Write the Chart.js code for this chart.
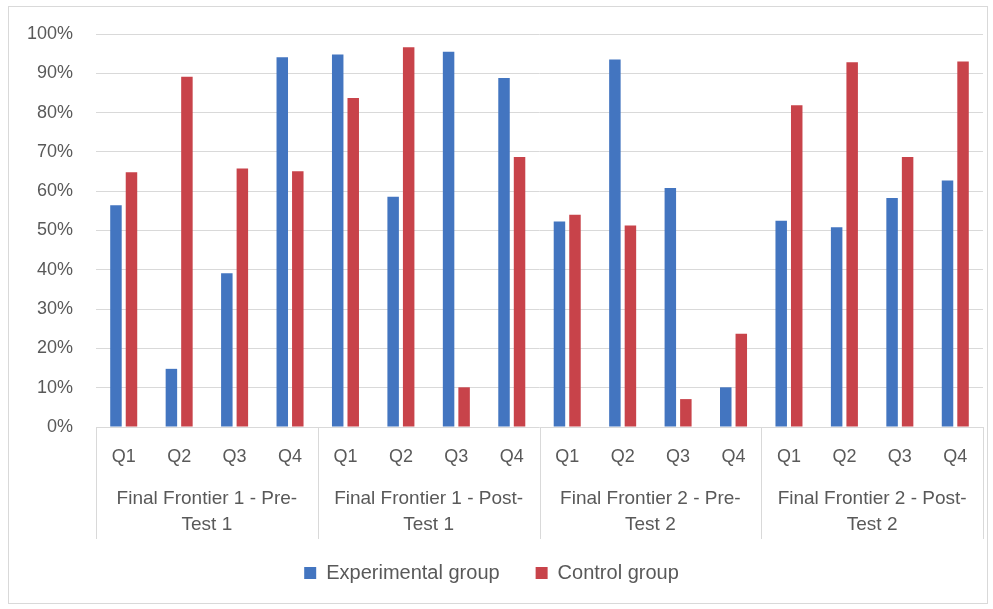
<!DOCTYPE html>
<html>
<head>
<meta charset="utf-8">
<script src="https://cdn.jsdelivr.net/npm/chart.js@4/dist/chart.umd.min.js"></script>
<style>
  html, body { margin: 0; padding: 0; background: #ffffff; }
  #wrap { width: 993px; height: 609px; position: relative; }
</style>
</head>
<body>
<div id="wrap"><canvas id="chart"></canvas></div>
<script>
// Question labels within each test, and the test names shown beneath them
const questions = ['Q1', 'Q2', 'Q3', 'Q4'];
const tests = [
  ['Final Frontier 1 - Pre-', 'Test 1'],
  ['Final Frontier 1 - Post-', 'Test 1'],
  ['Final Frontier 2 - Pre-', 'Test 2'],
  ['Final Frontier 2 - Post-', 'Test 2']
];

// Share of correct answers (%) per question, test by test
const experimental = [56.4, 14.8, 39.1, 94.1,  94.8, 58.6, 95.5, 88.8,  52.3, 93.5, 60.8, 10.1,  52.5, 50.8, 58.3, 62.7];
const control      = [64.8, 89.1, 65.8, 65.1,  83.7, 96.6, 10.1, 68.7,  54.0, 51.3,  7.1, 23.7,  81.9, 92.8, 68.7, 93.0];

const yTicks = [0, 10, 20, 30, 40, 50, 60, 70, 80, 90, 100];

const labels = [];
tests.forEach(() => questions.forEach(q => labels.push(q)));

const FONT = '"Liberation Sans", Arial, sans-serif';
const TEXT = '#595959';
const GRID = '#d9d9d9';

// Frame, test-name row and group separators under the category axis
const groupAxis = {
  id: 'groupAxis',
  beforeDraw(chart) {
    const c = chart.ctx;
    c.save();
    c.fillStyle = '#ffffff';
    c.fillRect(0, 0, chart.width, chart.height);
    c.strokeStyle = GRID;
    c.lineWidth = 1;
    c.strokeRect(8.5, 6.5, chart.width - 14, chart.height - 12);
    c.restore();
  },
  afterDraw(chart) {
    const c = chart.ctx;
    const x = chart.scales.x;
    const area = chart.chartArea;
    const per = questions.length;
    const step = x.getPixelForValue(1) - x.getPixelForValue(0);
    c.save();
    c.strokeStyle = GRID;
    c.lineWidth = 1;
    for (let g = 0; g <= tests.length; g++) {
      const px = Math.round(x.getPixelForValue(g * per) - step / 2) + 0.5;
      c.beginPath();
      c.moveTo(px, area.bottom);
      c.lineTo(px, area.bottom + 112);
      c.stroke();
    }
    c.fillStyle = TEXT;
    c.font = '19px ' + FONT;
    c.textAlign = 'center';
    c.textBaseline = 'middle';
    tests.forEach((lines, g) => {
      const cx = (x.getPixelForValue(g * per) + x.getPixelForValue(g * per + per - 1)) / 2;
      lines.forEach((t, i) => c.fillText(t, cx, area.bottom + 72 + i * 26));
    });
    c.restore();
  }
};

new Chart(document.getElementById('chart'), {
  type: 'bar',
  data: {
    labels: labels,
    datasets: [
      { label: 'Experimental group', data: experimental, backgroundColor: '#4375c0',
        categoryPercentage: 0.56, barPercentage: 0.74 },
      { label: 'Control group', data: control, backgroundColor: '#c8434a',
        categoryPercentage: 0.56, barPercentage: 0.74 }
    ]
  },
  options: {
    responsive: true,
    maintainAspectRatio: false,
    animation: false,
    layout: { padding: { top: 34, right: 10, left: 0, bottom: 16 } },
    plugins: {
      tooltip: { enabled: false },
      legend: {
        position: 'bottom',
        labels: {
          boxWidth: 12, boxHeight: 12, padding: 36,
          color: TEXT, font: { family: FONT, size: 20 }
        }
      }
    },
    scales: {
      x: {
        grid: { display: false, drawTicks: false },
        border: { display: false },
        ticks: { color: TEXT, font: { family: FONT, size: 18 }, padding: 19, maxRotation: 0, autoSkip: false },
        afterFit(s) { s.height = 100; }
      },
      y: {
        min: 0, max: 100,
        afterBuildTicks(s) { s.ticks = yTicks.map(v => ({ value: v })); },
        grid: { color: GRID, drawTicks: false },
        border: { display: false },
        ticks: { color: TEXT, font: { family: FONT, size: 18 }, padding: 23, callback: v => v + '%' },
        afterFit(s) { s.width = 96; }
      }
    }
  },
  plugins: [groupAxis]
});
</script>
</body>
</html>
